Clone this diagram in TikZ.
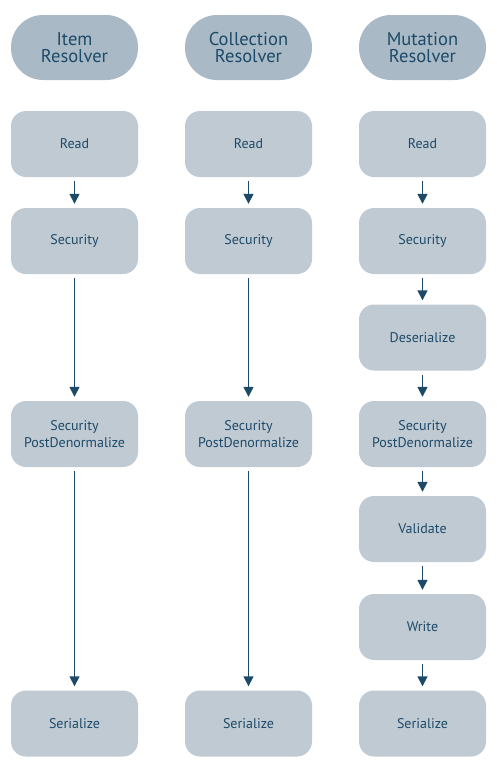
\documentclass[tikz,border=0pt]{standalone}
\usepackage{fontspec}
\setmainfont{PT Sans}
\usetikzlibrary{arrows.meta}
\definecolor{boxfill}{HTML}{C0CAD3}
\definecolor{headfill}{HTML}{A9BAC6}
\definecolor{ink}{HTML}{1D4A68}
\tikzset{
  stepbox/.style={draw=none, fill=boxfill, rounded corners=15pt, minimum width=127pt, minimum height=66pt,
    text=ink, font=\fontsize{14}{17}\selectfont, align=center, inner sep=0pt},
  headbox/.style={draw=none, fill=headfill, rounded corners=32pt, minimum width=127pt, minimum height=65pt,
    text=ink, font=\fontsize{18.5}{17.5}\selectfont, align=center, inner sep=0pt},
  flow/.style={draw=ink, line width=1.5pt, shorten >=4pt, shorten <=4pt, -{Triangle[length=10pt,width=10pt]}}
}
\begin{document}
\begin{tikzpicture}[x=1pt,y=-1pt]
\useasboundingbox (0,0) rectangle (496,772);
% headers
\node[headbox] (h1) at (74.5,47.5) {Item\\Resolver};
\node[headbox] (h2) at (248.5,47.5) {Collection\\Resolver};
\node[headbox] (h3) at (422.5,47.5) {Mutation\\Resolver};
% column 1
\node[stepbox] (a1) at (74.5,144) {Read};
\node[stepbox] (a2) at (74.5,241) {Security};
\node[stepbox] (a3) at (74.5,434) {Security\\PostDenormalize};
\node[stepbox] (a4) at (74.5,723.5) {Serialize};
% column 2
\node[stepbox] (b1) at (248.5,144) {Read};
\node[stepbox] (b2) at (248.5,241) {Security};
\node[stepbox] (b3) at (248.5,434) {Security\\PostDenormalize};
\node[stepbox] (b4) at (248.5,723.5) {Serialize};
% column 3
\node[stepbox] (c1) at (422.5,144) {Read};
\node[stepbox] (c2) at (422.5,241) {Security};
\node[stepbox] (c3) at (422.5,337.5) {Deserialize};
\node[stepbox] (c4) at (422.5,434) {Security\\PostDenormalize};
\node[stepbox] (c5) at (422.5,529) {Validate};
\node[stepbox] (c6) at (422.5,627) {Write};
\node[stepbox] (c7) at (422.5,723.5) {Serialize};
% arrows
\draw[flow] (a1) -- (a2);
\draw[flow] (a2) -- (a3);
\draw[flow] (a3) -- (a4);
\draw[flow] (b1) -- (b2);
\draw[flow] (b2) -- (b3);
\draw[flow] (b3) -- (b4);
\draw[flow] (c1) -- (c2);
\draw[flow] (c2) -- (c3);
\draw[flow] (c3) -- (c4);
\draw[flow] (c4) -- (c5);
\draw[flow] (c5) -- (c6);
\draw[flow] (c6) -- (c7);
\end{tikzpicture}
\end{document}
